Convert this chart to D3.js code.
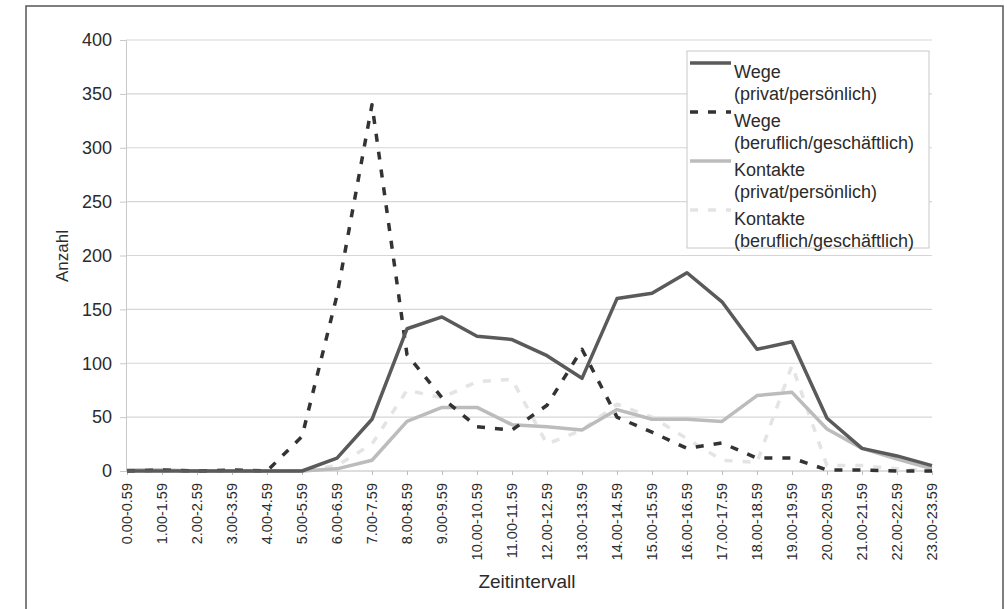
<!DOCTYPE html>
<html>
<head>
<meta charset="utf-8">
<script src="https://cdn.jsdelivr.net/npm/d3@7"></script>
<style>
  body { margin: 0; background: #fff; }
  text { font-family: "Liberation Sans", Arial, sans-serif; fill: #2b2b2b; }
</style>
</head>
<body>
<svg id="chart" width="1007" height="609"></svg>
<script>
// Datos
const zeitintervalle = ["0.00-0.59", "1.00-1.59", "2.00-2.59", "3.00-3.59", "4.00-4.59", "5.00-5.59",
  "6.00-6.59", "7.00-7.59", "8.00-8.59", "9.00-9.59", "10.00-10.59", "11.00-11.59",
  "12.00-12.59", "13.00-13.59", "14.00-14.59", "15.00-15.59", "16.00-16.59", "17.00-17.59",
  "18.00-18.59", "19.00-19.59", "20.00-20.59", "21.00-21.59", "22.00-22.59", "23.00-23.59"];
const wegePrivat = [0, 0, 0, 0, 0, 0, 12, 48, 132, 143, 125, 122, 107, 86, 160, 165, 184, 157, 113, 120, 49, 21, 14, 5];
const wegeBeruf = [0, 1, 0, 1, 0, 32, 163, 340, 108, 68, 41, 38, 61, 113, 50, 36, 21, 26, 12, 12, 1, 1, 0, 0];
const kontaktePrivat = [1, 1, 0, 0, 0, 0, 2, 10, 46, 59, 59, 43, 41, 38, 57, 48, 48, 46, 70, 73, 39, 21, 11, 2];
const kontakteBeruf = [0, 0, 0, 0, 0, 0, 5, 25, 75, 68, 83, 85, 25, 38, 62, 50, 30, 10, 8, 98, 5, 5, 2, 0];
const yTicks = [0, 50, 100, 150, 200, 250, 300, 350, 400];

const serien = [
  { name: ["Wege", "(privat/persönlich)"], values: wegePrivat, color: "#5a5a5a", dash: null, width: 3.5 },
  { name: ["Wege", "(beruflich/geschäftlich)"], values: wegeBeruf, color: "#333", dash: "8,10", width: 3.5 },
  { name: ["Kontakte", "(privat/persönlich)"], values: kontaktePrivat, color: "#bcbcbc", dash: null, width: 3.5 },
  { name: ["Kontakte", "(beruflich/geschäftlich)"], values: kontakteBeruf, color: "#e4e4e4", dash: "8,10", width: 3.5 }
];

const svg = d3.select("#chart");

// Rahmen
svg.append("rect")
  .attr("x", 26).attr("y", 6)
  .attr("width", 977).attr("height", 610)
  .attr("fill", "none")
  .attr("stroke", "#555")
  .attr("stroke-width", 1.5);

const x = d3.scalePoint().domain(zeitintervalle).range([127, 932]);
const y = d3.scaleLinear().domain([0, 400]).range([471, 40]);

// Gitterlinien
svg.append("g")
  .selectAll("line")
  .data(yTicks.slice(1))
  .join("line")
  .attr("x1", 126).attr("x2", 932)
  .attr("y1", d => y(d)).attr("y2", d => y(d))
  .attr("stroke", "#d6d6d6")
  .attr("stroke-width", 1.2);

// Y-Achse
const yAxis = svg.append("g")
  .attr("transform", "translate(126,0)")
  .call(d3.axisLeft(y).tickValues(yTicks).tickSize(6).tickPadding(8));
yAxis.select(".domain").attr("stroke", "#c8c8c8");
yAxis.selectAll(".tick line").attr("stroke", "#c8c8c8");
yAxis.selectAll(".tick text")
  .attr("font-size", 18)
  .attr("font-family", "Liberation Sans, Arial, sans-serif")
  .attr("fill", "#2b2b2b");

// X-Achse
const xAxis = svg.append("g")
  .attr("transform", "translate(0,471)")
  .call(d3.axisBottom(x).tickSize(4).tickPadding(0));
xAxis.select(".domain").attr("stroke", "#bdbdbd").attr("d", "M126,0H932");
xAxis.selectAll(".tick line").attr("stroke", "#bdbdbd");
xAxis.selectAll(".tick text")
  .attr("font-size", 14.5)
  .attr("font-family", "Liberation Sans, Arial, sans-serif")
  .attr("fill", "#2b2b2b")
  .attr("text-anchor", "end")
  .attr("transform", "translate(-1,12) rotate(-90)")
  .attr("x", 0).attr("y", 0)
  .attr("dy", "0.35em");

// Achsentitel
svg.append("text")
  .attr("transform", "translate(62,256) rotate(-90)")
  .attr("text-anchor", "middle")
  .attr("dy", "0.35em")
  .attr("font-size", 17)
  .text("Anzahl");

svg.append("text")
  .attr("x", 527).attr("y", 588)
  .attr("text-anchor", "middle")
  .attr("font-size", 19)
  .text("Zeitintervall");

// Linien
const line = d3.line()
  .x((d, i) => x(zeitintervalle[i]))
  .y(d => y(d));

svg.append("g")
  .selectAll("path")
  .data(serien.slice().reverse())
  .join("path")
  .attr("d", d => line(d.values))
  .attr("fill", "none")
  .attr("stroke", d => d.color)
  .attr("stroke-width", d => d.width)
  .attr("stroke-dasharray", d => d.dash)
  .attr("stroke-linejoin", "round");

// Legende
const legend = svg.append("g");
legend.append("rect")
  .attr("x", 687).attr("y", 51)
  .attr("width", 242).attr("height", 197)
  .attr("fill", "#fff")
  .attr("stroke", "#c8c8c8")
  .attr("stroke-width", 1);

serien.forEach(function (s, i) {
  const top = 78 + i * 49;
  legend.append("line")
    .attr("x1", 690).attr("x2", 731)
    .attr("y1", top - 15).attr("y2", top - 15)
    .attr("stroke", s.color)
    .attr("stroke-width", s.width)
    .attr("stroke-dasharray", s.dash);
  legend.append("text")
    .attr("x", 734).attr("y", top)
    .attr("font-size", 18)
    .text(s.name[0]);
  legend.append("text")
    .attr("x", 734).attr("y", top + 22)
    .attr("font-size", 18)
    .text(s.name[1]);
});
</script>
</body>
</html>
